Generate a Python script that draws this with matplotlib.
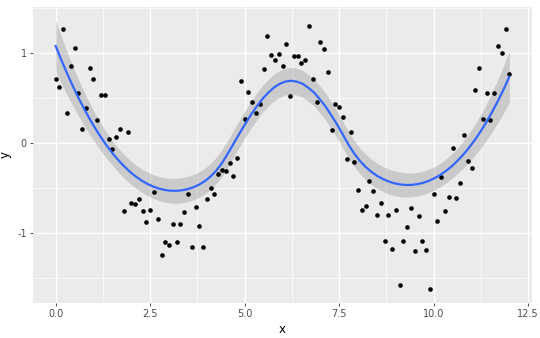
import numpy as np
import matplotlib
matplotlib.use("Agg")
import matplotlib.pyplot as plt
from matplotlib.ticker import MultipleLocator, FuncFormatter

x = np.linspace(0, 12, 121)
y = np.array([
    0.71, 0.62, 1.26, 0.33, 0.85, 1.05, 0.55, 0.16, 0.39, 0.83,
    0.71, 0.25, 0.53, 0.53, 0.04, -0.07, 0.07, 0.15, -0.75, 0.12,
    -0.66, -0.67, -0.62, -0.75, -0.88, -0.74, -0.54, -0.84, -1.24, -1.10,
    -1.13, -0.90, -1.10, -0.90, -0.76, -0.56, -1.15, -0.71, -0.92, -1.15,
    -0.62, -0.50, -0.57, -0.34, -0.30, -0.31, -0.22, -0.36, -0.17, 0.69,
    0.27, 0.57, 0.46, 0.33, 0.43, 0.82, 1.19, 0.97, 0.92, 0.99,
    0.85, 1.10, 0.52, 0.96, 0.96, 0.89, 0.92, 1.30, 0.71, 0.45,
    1.12, 1.04, 0.79, 0.14, 0.43, 0.40, 0.29, -0.18, 0.12, -0.21,
    -0.52, -0.74, -0.70, -0.42, -0.53, -0.80, -0.66, -1.08, -0.80, -1.17,
    -0.74, -1.57, -1.09, -0.93, -0.72, -1.20, -0.81, -1.08, -1.18, -1.62,
    -0.57, -0.86, -0.38, -0.75, -0.60, -0.06, -0.61, -0.44, 0.09, -0.20,
    -0.28, 0.59, 0.83, 0.27, 0.55, 0.25, 0.55, 1.07, 1.00, 1.26,
    0.77,
])

span = 0.75  # geom_smooth default


def loess_weights(x, x0, span):
    q = int(np.floor(len(x) * span))
    d = np.abs(x - x0)
    h = np.sort(d)[q - 1]
    u = np.clip(d / h, 0, 1)
    return (1 - u ** 3) ** 3


def loess_rows(x, xs, span):
    # rows of the smoother matrix, local quadratic fit
    L = np.zeros((len(xs), len(x)))
    for i, x0 in enumerate(xs):
        w = loess_weights(x, x0, span)
        X = np.column_stack([np.ones_like(x), x - x0, (x - x0) ** 2])
        XtW = X.T * w
        L[i] = np.linalg.solve(XtW @ X, XtW)[0]
    return L


L = loess_rows(x, x, span)
res = y - L @ y
IL = np.eye(len(x)) - L
one_delta = np.trace(IL.T @ IL)
s = np.sqrt(np.sum(res ** 2) / one_delta)
tq = 1.98  # ~qt(0.975, df)

xs = np.linspace(x.min(), x.max(), 80)
Ls = loess_rows(x, xs, span)
fit = Ls @ y
se = s * np.sqrt(np.sum(Ls ** 2, axis=1))
lo, hi = fit - tq * se, fit + tq * se

fig = plt.figure(figsize=(5.4, 3.38), dpi=100)
ax = fig.add_axes([33 / 540, (338 - 302.7) / 338, 499 / 540, (302.7 - 7) / 338])
ax.set_facecolor("#EBEBEB")
for sp in ax.spines.values():
    sp.set_visible(False)

ax.xaxis.set_major_locator(MultipleLocator(2.5))
ax.xaxis.set_minor_locator(MultipleLocator(1.25))
ax.yaxis.set_major_locator(MultipleLocator(1))
ax.yaxis.set_minor_locator(MultipleLocator(0.5))
ax.grid(which="major", color="white", linewidth=1.0)
ax.grid(which="minor", color="white", linewidth=0.5)
ax.set_axisbelow(True)

ax.fill_between(xs, lo, hi, color="#999999", alpha=0.4, linewidth=0, zorder=2)
ax.scatter(x, y, s=11, color="black", linewidths=0, zorder=3)
ax.plot(xs, fit, color="#3366FF", linewidth=1.6, zorder=4)

xr = x.max() - x.min()
ax.set_xlim(x.min() - 0.05 * xr, x.max() + 0.05 * xr)
ymin = min(y.min(), lo.min())
ymax = max(y.max(), hi.max())
yr = ymax - ymin
ax.set_ylim(ymin - 0.05 * yr, ymax + 0.05 * yr)

ax.xaxis.set_major_formatter(FuncFormatter(lambda v, p: f"{v:.1f}"))
ax.yaxis.set_major_formatter(FuncFormatter(lambda v, p: f"{v:.0f}"))
ax.tick_params(which="major", length=2.5, width=0.6, color="#333333",
               labelcolor="#4D4D4D", labelsize=7, pad=2)
ax.tick_params(which="minor", length=0)

ax.set_xlabel("x", fontsize=8.5, color="black", labelpad=3)
ax.set_ylabel("y", fontsize=8.5, color="black", labelpad=4)

fig.savefig("out.png", dpi=100)
